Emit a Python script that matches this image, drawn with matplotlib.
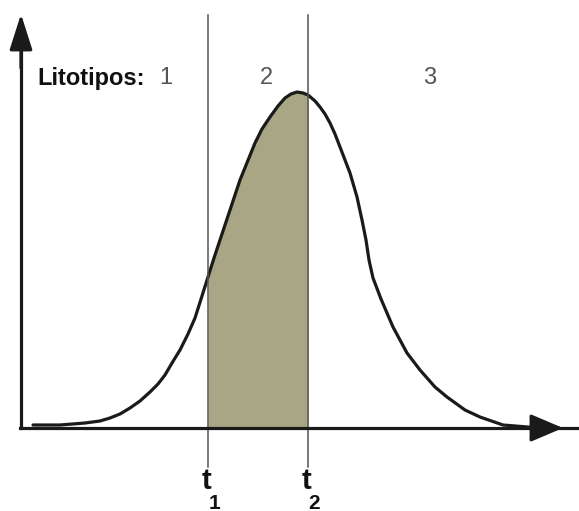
import matplotlib.pyplot as plt
import numpy as np

# curve (x to the right, height above the baseline)
curve_x = [12, 39, 64, 79, 89, 99, 109, 119, 129, 137, 144, 151, 159, 167, 174,
           181, 187, 193, 199, 209, 219, 234, 241, 249, 257, 264, 270, 276, 282,
           287, 294, 299, 304, 309, 314, 319, 324, 329, 336, 341, 345, 348, 352,
           360, 372, 386, 399, 414, 426, 444, 459, 482, 519]
curve_y = [3, 3, 5, 7, 10, 14, 20, 27, 36, 44, 53, 65, 78, 94, 110,
           132, 151, 170, 188, 218, 248, 285, 299, 311, 322, 330, 334, 336, 335,
           333, 327, 321, 314, 305, 294, 281, 268, 255, 231, 208, 188, 168, 150,
           129, 101, 75, 58, 41, 31, 18, 11, 3, 0]
t1, t2 = 187, 287
region_labels = ["1", "2", "3"]
region_x = [145, 245, 409]

fig = plt.figure(figsize=(5.79, 5.11), dpi=100)
ax = fig.add_axes([0, 0, 1, 1])
ax.set_xlim(-21, 558)
ax.set_ylim(-83, 428)
ax.axis("off")

cx = np.array(curve_x)
cy = np.array(curve_y)
mask = (cx >= t1) & (cx <= t2)
ax.fill_between(cx[mask], 0, cy[mask], color="#a8a685", lw=0)
ax.plot(cx, cy, color="#1a1a1a", lw=2.3, solid_joinstyle="round",
        solid_capstyle="round")

# region boundaries
for t in [t1, t2]:
    ax.plot([t, t], [-39, 413], color="#555555", lw=1.1)

# axes with arrows
ax.plot([-1, 558], [0, 0], color="#1a1a1a", lw=2.3)
ax.plot([0, 0], [0, 380], color="#1a1a1a", lw=2.3)
ax.annotate("", xy=(542, 0), xytext=(500, 0),
            arrowprops=dict(arrowstyle="-|>,head_length=0.4,head_width=0.17",
                            mutation_scale=50, color="#1a1a1a", lw=2.3,
                            shrinkA=0, shrinkB=0))
ax.annotate("", xy=(0, 414), xytext=(0, 360),
            arrowprops=dict(arrowstyle="-|>,head_length=0.44,head_width=0.14",
                            mutation_scale=50, color="#1a1a1a", lw=2.3,
                            shrinkA=0, shrinkB=0))

font = ["Liberation Sans", "DejaVu Sans"]
ax.text(16, 350, "Litotipos:", family=font, fontsize=17, fontweight="bold",
        color="#111111", ha="left", va="center")
for lab, x in zip(region_labels, region_x):
    ax.text(x, 350, lab, family=font, fontsize=17, color="#555555",
            ha="center", va="center")

for t, sub in [(t1, "1"), (t2, "2")]:
    ax.text(t - 2, -53, "t", family=font, fontsize=21, fontweight="bold",
            color="#111111", ha="center", va="center")
    ax.text(t + 6, -75, sub, family=font, fontsize=15, fontweight="bold",
            color="#111111", ha="center", va="center")

fig.savefig("out.png", dpi=100)
